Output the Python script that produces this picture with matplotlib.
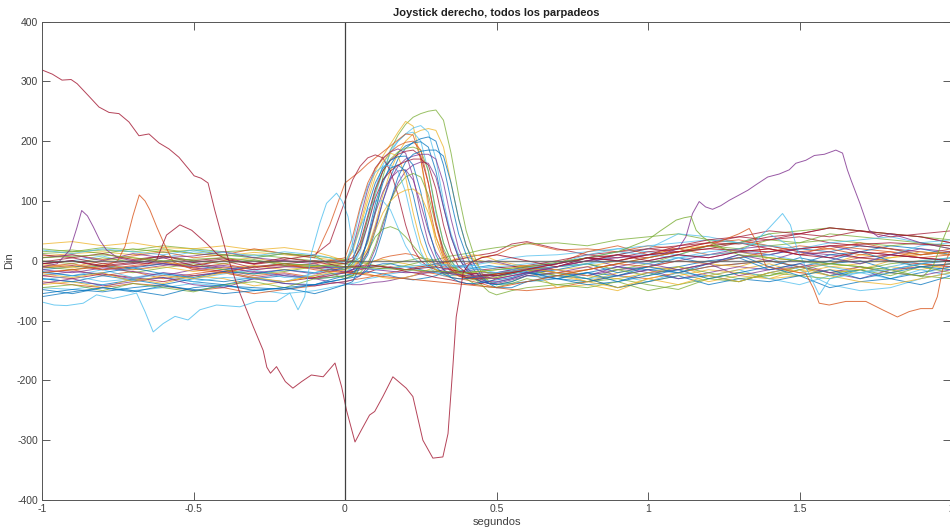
import numpy as np
import matplotlib
matplotlib.use("Agg")
import matplotlib.pyplot as plt

# MATLAB default line colours
BLUE, ORANGE, YELLOW, PURPLE = '#0072BD', '#D95319', '#EDB120', '#7E2F8E'
GREEN, LBLUE, DRED = '#77AC30', '#4DBEEE', '#A2142F'

# shared sample times (s): coarse before/after the blink, fine around it
t = np.concatenate([np.linspace(-1.0, -0.1, 10), [-0.05],
                    np.linspace(0.0, 0.5, 21), [0.55, 0.6],
                    np.linspace(0.7, 2.0, 14)])

# blinks with a clear response (pre | 0..0.6 | post)
p01 = ([-10, -15, -8, -20, -12, -5, -15, -22, -18, -10, -8] +
       [-5, -3, 5, 30, 80, 140, 185, 210, 228, 240, 246, 250, 252, 235, 180, 110, 50, 10, -20, -35, -40, -35, -25] +
       [-20, -30, -15, -5, 10, 25, 20, 35, 30, 45, 40, 35, 30, 25])
p02 = ([28, 32, 25, 30, 22, 20, 25, 18, 22, 15, 8] +
       [0, 20, 60, 110, 150, 175, 195, 215, 233, 225, 170, 90, 30, 0, -15, -20, -25, -28, -30, -30, -28, -20, -15] +
       [-25, -35, -20, -10, -15, -5, -10, 5, 0, -5, 10, 5, 15, 10])
p03 = ([-40, -35, -45, -30, -38, -25, -30, -42, -35, -25, -15] +
       [-10, -8, 0, 20, 60, 110, 150, 180, 200, 212, 218, 221, 218, 190, 130, 70, 25, 0, -15, -22, -25, -20, -15] +
       [-45, -40, -50, -30, -20, -35, -25, -30, -15, -25, -10, -20, -5, -15])
p04 = ([-5, 0, 8, -5, 5, 15, 10, 5, 12, 5, -5] +
       [-15, -5, 20, 70, 120, 160, 185, 200, 212, 222, 226, 215, 170, 100, 45, 10, -10, -20, -25, -25, -22, -18, -12] +
       [-10, -5, 10, 20, 45, 40, 30, 45, 15, 5, -5, 10, 25, 30])
p05 = ([-20, -25, -15, -28, -20, -30, -22, -15, -28, -25, -22] +
       [-20, -10, 15, 60, 110, 150, 180, 200, 212, 215, 200, 150, 80, 30, 0, -15, -22, -25, -25, -22, -20, -15, -10] +
       [-20, -30, -25, -35, -20, -25, -15, -30, -40, -25, -20, -30, -15, -25])
p06 = ([5, 10, 2, 8, 15, 5, 10, 20, 12, 5, 60] +
       [130, 140, 150, 162, 172, 182, 192, 202, 212, 210, 170, 100, 40, 5, -15, -25, -30, -30, -28, -25, -22, -15, -10] +
       [-5, 15, 25, 10, 20, 30, 35, 25, 15, 20, 30, 20, 10, 15])
p07 = ([-30, -35, -25, -32, -40, -30, -35, -28, -38, -40, -32] +
       [-25, -20, -10, 10, 50, 100, 140, 170, 188, 198, 204, 207, 200, 160, 100, 45, 10, -15, -30, -38, -40, -35, -25] +
       [-30, -40, -35, -20, -30, -25, -35, -20, -10, -25, -15, -30, -20, -10])
p08 = ([-55, -48, -52, -45, -40, -50, -42, -45, -48, -40, -35] +
       [-30, -25, -5, 35, 85, 130, 160, 180, 192, 197, 199, 190, 150, 90, 40, 5, -15, -28, -35, -38, -36, -30, -22] +
       [-15, -5, -20, -10, 5, -5, 10, -10, 5, -5, 0, -15, -5, 0])
p09 = ([15, 18, 12, 20, 14, 18, 10, 5, 12, 8, -5] +
       [-15, -5, 25, 70, 115, 150, 170, 182, 188, 190, 185, 150, 85, 30, 0, -18, -28, -32, -32, -30, -28, -22, -15] +
       [-25, -15, -5, 5, 15, 25, 30, 45, 50, 55, 50, 45, 40, 35])
p10 = ([-15, -20, -12, -18, -25, -15, -10, -20, -15, -22, -18] +
       [-10, 20, 70, 120, 155, 172, 182, 187, 180, 140, 80, 30, 0, -15, -22, -25, -25, -22, -20, -20, -20, -15, -10] +
       [-5, 5, -10, 0, 10, 5, 15, 10, 20, 25, 15, 10, 5, 0])
p11 = ([-38, -30, -42, -35, -28, -40, -45, -30, -38, -42, -38] +
       [-35, -32, -25, -10, 20, 60, 100, 130, 150, 160, 165, 163, 140, 90, 40, 5, -15, -28, -35, -38, -38, -32, -25] +
       [-20, -10, -25, -15, -30, -20, -10, -15, -5, -20, -10, -20, -25, -15])
p12 = ([10, 5, 12, 2, 8, 0, 5, -5, 2, 10, 30] +
       [100, 135, 158, 172, 177, 172, 150, 110, 60, 20, 0, -10, -15, -18, -20, -20, -18, -15, -15, -14, -12, -10, -8] +
       [0, 10, 5, 15, 20, 30, 40, 35, 45, 40, 50, 45, 40, 30])
p13 = ([-25, -18, -22, -30, -20, -25, -18, -28, -22, -30, -25] +
       [-20, -15, 0, 35, 80, 115, 138, 150, 152, 135, 95, 50, 15, -5, -18, -25, -28, -28, -26, -24, -22, -18, -12] +
       [-15, -25, -10, -20, -15, -5, -25, -15, -10, -20, -30, -15, -10, -5])
p14 = ([-45, -40, -50, -38, -45, -52, -40, -35, -45, -30, -28] +
       [-25, -25, -20, -5, 25, 65, 100, 125, 140, 146, 140, 110, 60, 20, -5, -20, -30, -38, -42, -44, -44, -38, -30] +
       [-40, -45, -35, -50, -40, -30, -35, -20, -25, -30, -15, -25, -10, -20])
p15 = ([0, -5, 5, -2, 8, 0, -5, 2, -8, -10, -20] +
       [-30, -25, -10, 15, 40, 53, 57, 52, 40, 25, 10, -5, -15, -20, -22, -22, -20, -18, -18, -20, -22, -20, -15] +
       [-10, -5, -15, -25, -10, -20, -30, -25, -15, -5, -10, -20, -25, -30])
p16 = ([-8, -12, -5, -15, -10, -18, -12, -8, -15, -10, -5] +
       [-5, 15, 55, 100, 140, 165, 180, 175, 140, 80, 30, 0, -15, -22, -25, -25, -22, -20, -18, -16, -15, -12, -8] +
       [-15, -25, -30, -20, -10, -25, -15, -5, -20, -10, -15, 0, -10, -5])
p17 = ([-2, 5, -5, 0, 8, -3, 3, -6, 0, -2, 0] +
       [0, 5, 30, 75, 120, 150, 168, 178, 183, 185, 175, 130, 65, 15, -10, -22, -28, -30, -30, -28, -25, -20, -15] +
       [-10, 0, 10, 20, 15, 25, 30, 20, 10, 15, 5, 10, 5, 0])
p18 = ([-18, -25, -20, -12, -22, -28, -18, -22, -15, -20, -15] +
       [-15, 0, 40, 90, 130, 155, 168, 174, 175, 160, 115, 55, 10, -15, -28, -35, -38, -38, -36, -34, -32, -28, -20] +
       [-30, -35, -25, -10, -20, -5, 5, -15, -5, 10, 15, 0, -10, -5])
p19 = ([-32, -25, -35, -30, -22, -35, -28, -30, -35, -20, -12] +
       [-10, 30, 85, 125, 148, 158, 160, 150, 115, 60, 15, -10, -20, -25, -25, -22, -18, -15, -12, -10, -10, -8, -5] +
       [-5, 5, 15, 10, 5, 15, 20, 10, 0, -10, -20, -15, -5, 5])
p20 = ([-10, -5, -15, -8, -2, -12, -5, -15, -10, -5, 0] +
       [5, 40, 90, 130, 155, 170, 182, 192, 198, 200, 185, 130, 60, 10, -15, -25, -30, -30, -28, -25, -22, -18, -12] +
       [-20, -15, -5, -10, 0, -5, 5, 15, 25, 20, 10, 15, 5, 10])
p21 = ([5, 10, 0, 12, 5, 8, 15, 5, 0, -5, -12] +
       [-20, -15, -5, 15, 55, 100, 135, 158, 170, 175, 178, 178, 170, 130, 70, 20, -10, -25, -32, -35, -35, -30, -22] +
       [-10, 5, 0, -5, -15, -5, 10, 0, 15, 5, -5, 10, 20, 15])
p22 = ([-48, -55, -45, -52, -42, -48, -55, -50, -45, -40, -35] +
       [-30, -28, -25, -15, 10, 50, 100, 140, 165, 178, 183, 185, 185, 175, 130, 70, 25, -5, -25, -38, -45, -45, -35] +
       [-25, -30, -45, -35, -25, -40, -30, -35, -25, -45, -35, -30, -40, -25])
p23 = ([18, 12, 20, 15, 10, 18, 14, 8, 15, 10, 5] +
       [-5, 20, 55, 85, 100, 100, 85, 55, 25, 5, -5, -10, -12, -12, -10, -8, -8, -8, -10, -12, -14, -15, -12] +
       [-5, 10, 20, 25, 30, 35, 30, 25, 20, 30, 35, 40, 30, 35])
p24 = ([-22, -28, -20, -35, -25, -30, -20, -28, -35, -25, -20] +
       [-15, -10, 0, 20, 50, 80, 100, 112, 118, 120, 110, 80, 40, 10, -10, -20, -25, -27, -27, -25, -22, -18, -12] +
       [-20, -35, -45, -30, -40, -25, -35, -20, -10, -25, -35, -40, -30, -20])
p25 = ([-60, -52, -45, -50, -58, -45, -40, -50, -45, -55, -48] +
       [-40, -35, -10, 40, 95, 135, 155, 160, 150, 110, 55, 15, -10, -22, -28, -30, -30, -28, -26, -25, -25, -22, -18] +
       [-30, -20, -35, -25, -15, -30, -20, -10, -25, -15, -30, -20, -10, -15])
p26 = ([-5, 0, -10, -5, 5, -8, 0, -12, -5, 0, -2] +
       [-5, 0, 20, 60, 105, 135, 150, 160, 166, 170, 170, 160, 120, 60, 15, -10, -20, -24, -25, -24, -22, -18, -14] +
       [-5, 5, 0, 10, 25, 35, 40, 50, 45, 55, 50, 40, 45, 50])

# blinks without a response
b01 = ([-30, -35, -40, -32, -28, -35, -40, -30, -25, -30, -28] +
       [-25, -22, -20, -18, -20, -22, -25, -28, -30, -32, -30, -28, -25, -20, -18, -20, -25, -30, -35, -38, -40, -38, -35] +
       [-30, -20, -25, -15, -10, 0, 5, 10, 20, 15, 25, 20, 10, 15])
b02 = ([-20, -15, -25, -18, -30, -22, -15, -25, -20, -28, -25] +
       [-20, -15, -10, -5, 0, 5, 8, 10, 12, 10, 5, 0, -5, -10, -12, -10, -5, 0, 5, 8, 10, 22, 30] +
       [18, 20, 15, 25, 20, 10, 15, 20, 10, 25, 20, 15, 10, 20])
b03 = ([8, 12, 15, 10, 18, 12, 8, 14, 10, 5, 2] +
       [0, -2, -5, -3, 0, 2, 0, -3, -5, -8, -10, -8, -5, -3, 0, 3, 5, 3, 0, -3, -5, -8, -10] +
       [-20, -30, -45, -35, -25, -15, -20, -30, -25, -15, -20, -10, -15, -5])
b04 = ([12, 15, 18, 15, 20, 12, 8, 10, 5, 0, -3] +
       [-5, -8, -10, -12, -10, -8, -5, -3, 0, 2, 5, 3, 0, -5, -10, -15, -20, -28, -40, -52, -57, -50, -45] +
       [-40, -35, -30, -40, -48, -30, -20, -25, -10, -20, -15, -5, 0, 5])
b05 = ([-12, -8, -15, -10, -5, -12, -18, -10, -8, -12, -15] +
       [-18, -20, -22, -20, -15, -12, -10, -12, -15, -12, -10, -8, -5, -3, 0, 2, 5, 8, 10, 12, 15, 28, 32] +
       [20, 10, 15, 20, 25, 30, 28, 35, 40, 30, 25, 20, 15, 10])
b06 = ([-5, 0, -10, -15, -8, -3, -12, -18, -25, -30, -35] +
       [-38, -40, -40, -38, -36, -35, -33, -30, -28, -25, -22, -20, -18, -15, -12, -10, -8, -5, -3, 0, -2, -8, -15] +
       [-20, -25, -15, -10, 0, 10, 20, 25, 15, 10, 5, 0, -5, -10])
b07 = ([-45, -48, -40, -50, -45, -38, -42, -48, -55, -50, -45] +
       [-40, -38, -35, -30, -28, -25, -22, -20, -18, -15, -12, -10, -8, -8, -10, -12, -10, -8, -5, -3, 0, 5, 8] +
       [10, 15, 20, 15, 10, 25, 15, 5, -15, -40, -50, -45, -30, -20])
b08 = ([-15, -10, -8, -12, -5, -8, -15, -10, -5, -8, -10] +
       [-12, -15, -12, -10, -8, -5, -5, -8, -10, -12, -15, -18, -20, -22, -20, -18, -15, -12, -10, -8, -10, -15, -20] +
       [-25, -20, -10, -15, -20, -10, -5, 0, -10, 0, 15, 25, 20, 10])
b09 = ([-35, -40, -45, -38, -42, -50, -45, -55, -48, -42, -38] +
       [-35, -32, -30, -28, -25, -22, -20, -18, -15, -15, -18, -20, -22, -25, -28, -30, -32, -35, -38, -42, -45, -48, -50] +
       [-45, -35, -25, -30, -20, -10, -5, 0, -10, -5, 5, 0, -5, -10])
b10 = ([-5, -10, 0, 5, -2, -8, 0, 5, -5, -10, -12] +
       [-15, -18, -20, -22, -25, -28, -30, -30, -28, -25, -20, -15, -10, -5, 0, 5, 8, 10, 8, 5, 0, -5, -10] +
       [-15, -10, 0, 10, 20, 25, 15, 5, 0, -10, -5, 5, 10, 15])
b11 = ([-25, -30, -22, -28, -35, -25, -20, -30, -35, -28, -22] +
       [-20, -18, -15, -12, -10, -10, -12, -15, -18, -20, -22, -25, -28, -30, -32, -35, -38, -40, -38, -35, -30, -25, -20] +
       [-10, 0, 10, 5, 15, 20, 30, 40, 45, 55, 50, 45, 40, 30])
b12 = ([20, 15, 22, 18, 25, 20, 15, 18, 12, 8, 5] +
       [2, 0, -2, -5, -8, -10, -12, -10, -8, -5, -2, 0, 2, 5, 8, 10, 12, 15, 18, 20, 22, 25, 28] +
       [30, 25, 35, 40, 45, 35, 30, 25, 30, 35, 30, 25, 30, 20])

# traces with artefacts, each on its own time base
t_red = [-1.0, -0.966, -0.934, -0.904, -0.884, -0.845, -0.812, -0.779, -0.746, -0.713,
         -0.68, -0.647, -0.614, -0.581, -0.548, -0.512, -0.498, -0.475, -0.452, -0.43,
         -0.391, -0.347, -0.303, -0.27, -0.258, -0.246, -0.226, -0.197, -0.172, -0.143,
         -0.111, -0.072, -0.033, -0.011, 0.005, 0.033, 0.054, 0.081, 0.098, 0.125,
         0.158, 0.202, 0.224, 0.257, 0.29, 0.323, 0.34, 0.356, 0.367, 0.376,
         0.39, 0.41, 0.45, 0.5, 0.6, 0.7, 0.8, 0.9, 1.0, 1.1,
         1.2, 1.3, 1.4, 1.5, 1.6, 1.7, 1.8, 1.9, 2.0]
y_red = [319, 312, 302, 303, 296, 275, 257, 248, 246, 232,
         209, 212, 197, 187, 173, 151, 142, 138, 130, 85,
         12, -54, -110, -150, -178, -188, -177, -202, -213, -202,
         -191, -194, -171, -211, -250, -303, -283, -258, -252, -227,
         -194, -213, -227, -300, -330, -328, -289, -177, -94, -66,
         -20, -5, 5, 10, 0, -10, 5, 10, 0, 10,
         5, 15, 20, 10, 5, 15, 10, 5, 0]

t_purple = [-1.0, -0.95, -0.908, -0.885, -0.869, -0.85, -0.831, -0.81, -0.787, -0.75,
            -0.7, -0.6, -0.5, -0.4, -0.3, -0.2, -0.1, 0.0, 0.1, 0.2,
            0.3, 0.4, 0.5, 0.6, 0.7, 0.8, 0.9, 1.0, 1.05, 1.1,
            1.125, 1.147, 1.169, 1.19, 1.213, 1.24, 1.268, 1.301, 1.33, 1.356,
            1.395, 1.433, 1.466, 1.488, 1.521, 1.549, 1.582, 1.62, 1.642, 1.658,
            1.67, 1.7, 1.73, 1.76, 1.8, 1.85, 1.9, 1.95, 2.0]
y_purple = [-10, -5, 18, 55, 84, 75, 57, 35, 18, 5,
            0, -5, -10, -8, -15, -10, -12, -10, -15, -20,
            -18, -25, -30, -20, -10, 0, 5, 10, 12, 20,
            40, 79, 99, 90, 86, 92, 101, 110, 118, 127,
            140, 145, 152, 163, 168, 176, 178, 185, 180, 152,
            135, 95, 51, 40, 45, 38, 30, 25, 20]

t_orange = [-1.0, -0.9, -0.8, -0.75, -0.726, -0.7, -0.679, -0.66, -0.644, -0.62,
            -0.6, -0.567, -0.5, -0.4, -0.3, -0.2, -0.1, 0.0, 0.1, 0.2,
            0.3, 0.4, 0.5, 0.6, 0.7, 0.8, 0.9, 1.0, 1.1, 1.2,
            1.3, 1.334, 1.36, 1.39, 1.45, 1.5, 1.52, 1.545, 1.565, 1.598,
            1.653, 1.719, 1.774, 1.823, 1.862, 1.9, 1.939, 1.955, 1.972, 1.994,
            2.0]
y_orange = [-20, -15, -10, 0, 24, 75, 110, 100, 85, 55,
            32, -2, -15, -20, -10, -5, -15, -20, -25, -30,
            -35, -40, -45, -35, -25, -15, -5, 5, 15, 25,
            45, 54, 30, -10, -15, -20, -21, -45, -71, -74,
            -68, -68, -82, -94, -85, -80, -80, -60, -15, 13,
            18]

t_lblue = [-1.0, -0.96, -0.919, -0.864, -0.82, -0.765, -0.72, -0.688, -0.66, -0.633,
           -0.6, -0.561, -0.518, -0.479, -0.424, -0.347, -0.292, -0.226, -0.182, -0.155,
           -0.133, -0.111, -0.083, -0.061, -0.028, -0.01, 0.01, 0.032, 0.06, 0.1,
           0.2, 0.3, 0.4, 0.5, 0.6, 0.7, 0.8, 0.9, 1.0, 1.1,
           1.2, 1.3, 1.35, 1.4, 1.444, 1.47, 1.493, 1.53, 1.565, 1.6,
           1.7, 1.8, 1.9, 2.0]
y_lblue = [-69, -74, -75, -71, -57, -63, -58, -54, -85, -119,
           -105, -93, -99, -82, -74, -77, -68, -68, -54, -82,
           -60, 12, 63, 96, 113, 100, 74, 7, -10, -15,
           -10, -5, -10, -20, -15, -10, -5, 0, -5, 5,
           10, 15, 30, 55, 79, 60, 18, -20, -57, -30,
           -20, -10, 0, 5]

t_dred = [-1.0, -0.9, -0.8, -0.7, -0.65, -0.622, -0.589, -0.545, -0.506, -0.457,
          -0.42, -0.38, -0.3, -0.2, -0.1, 0.0, 0.1, 0.2, 0.3, 0.4,
          0.5, 0.6, 0.7, 0.8, 0.9, 1.0, 1.2, 1.4, 1.6, 1.8,
          2.0]
y_dred = [-5, 0, -8, -3, -5, 1, 43, 60, 51, 29,
          10, 0, -5, 5, -2, -10, -8, -15, -10, -20,
          -25, -15, -5, 5, 0, 10, 20, 15, 25, 30,
          25]

t_green = [-1.0, -0.8, -0.6, -0.4, -0.2, 0.0, 0.2, 0.4, 0.6, 0.8,
           0.9, 1.0, 1.038, 1.07, 1.093, 1.12, 1.142, 1.159, 1.18, 1.203,
           1.25, 1.3, 1.4, 1.5, 1.6, 1.7, 1.8, 1.906, 1.94, 1.977,
           2.0]
y_green = [5, 10, 0, 5, -5, -10, -15, -20, -10, 5,
           15, 35, 49, 60, 68, 72, 74, 51, 40, 32,
           20, 10, 5, 0, -5, -10, -15, -27, -10, 40,
           68]

shared = [(b01, BLUE), (b02, ORANGE), (b03, YELLOW), (b04, GREEN), (b05, DRED),
          (b06, PURPLE), (b07, LBLUE), (b08, BLUE), (b09, ORANGE), (b10, YELLOW),
          (b11, DRED), (b12, GREEN),
          (p01, GREEN), (p02, YELLOW), (p03, YELLOW), (p04, LBLUE), (p05, LBLUE),
          (p06, ORANGE), (p07, BLUE), (p08, BLUE), (p09, GREEN), (p10, PURPLE),
          (p11, PURPLE), (p12, DRED), (p13, PURPLE), (p14, GREEN), (p15, GREEN),
          (p16, YELLOW), (p17, DRED), (p18, BLUE), (p19, LBLUE), (p20, ORANGE),
          (p21, PURPLE), (p22, BLUE), (p23, LBLUE), (p24, YELLOW), (p25, BLUE),
          (p26, DRED)]
own = [(t_purple, y_purple, PURPLE), (t_orange, y_orange, ORANGE),
       (t_lblue, y_lblue, LBLUE), (t_dred, y_dred, DRED),
       (t_green, y_green, GREEN), (t_red, y_red, DRED)]

plt.rcParams['font.family'] = ['Liberation Sans', 'DejaVu Sans']
plt.rcParams['axes.unicode_minus'] = False
fig = plt.figure(figsize=(9.5, 5.29), dpi=100)
ax = fig.add_axes([42 / 950, 29 / 529, 909 / 950, 478.5 / 529])

for vals, col in shared:
    ax.plot(t, vals, color=col, lw=0.7, alpha=0.75)
for tt, yy, col in own:
    ax.plot(tt, yy, color=col, lw=0.7, alpha=0.8)

# reference lines: blink onset and zero level
ax.axvline(0, color='#404040', lw=0.9)
ax.axhline(0, color='#606060', lw=1.0, alpha=0.8)

ax.set_xlim(-1, 2)
ax.set_ylim(-400, 400)
ax.set_xticks([-1, -0.5, 0, 0.5, 1, 1.5, 2])
ax.set_xticklabels(['-1', '-0.5', '0', '0.5', '1', '1.5', '2'])
ax.set_yticks(np.arange(-400, 401, 100))
ax.tick_params(direction='in', length=6, width=0.6, top=True, right=True,
               labelsize=7.5, colors='#404040', pad=3)
for sp in ax.spines.values():
    sp.set_color('#555555')
    sp.set_linewidth(0.7)

ax.set_title('Joystick derecho, todos los parpadeos', fontsize=8,
             fontweight='bold', color='#202020', pad=4)
ax.set_xlabel('segundos', fontsize=8, color='#404040', labelpad=2)
ax.set_ylabel('Din', fontsize=8, color='#404040', labelpad=2)

fig.savefig('out.png', dpi=100)
